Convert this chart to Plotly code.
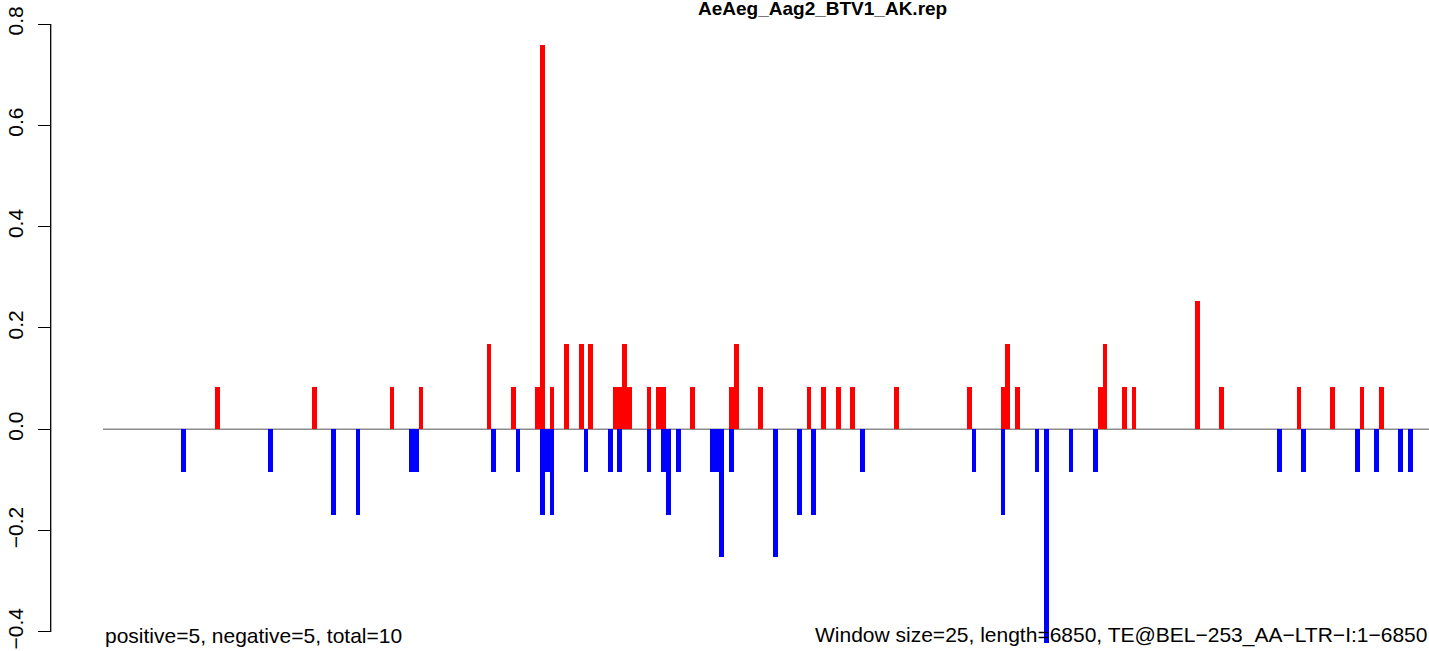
import plotly.graph_objects as go

# window index (25 bp windows) and normalized values
pos_bins = [23, 43, 59, 65, 79, 84, 89, 90, 92, 95, 98, 100, 105, 106, 107, 108,
            112, 114, 115, 121, 129, 130, 135, 145, 148, 151, 154, 163, 178, 185,
            186, 188, 205, 206, 210, 212, 225, 230, 246, 253, 259, 263]
pos_vals = [0.084, 0.084, 0.084, 0.084, 0.169, 0.084, 0.084, 0.759, 0.084, 0.169,
            0.169, 0.169, 0.084, 0.084, 0.169, 0.084, 0.084, 0.084, 0.084, 0.084,
            0.084, 0.169, 0.084, 0.084, 0.084, 0.084, 0.084, 0.084, 0.084, 0.084,
            0.169, 0.084, 0.084, 0.169, 0.084, 0.084, 0.253, 0.084, 0.084, 0.084,
            0.084, 0.084]

neg_bins = [16, 34, 47, 52, 63, 64, 80, 85, 90, 91, 92, 99, 104, 106, 112, 115,
            116, 118, 125, 126, 127, 129, 138, 143, 146, 156, 179, 185, 192, 194,
            199, 204, 242, 247, 258, 262, 267, 269]
neg_vals = [-0.084, -0.084, -0.169, -0.169, -0.084, -0.084, -0.084, -0.084, -0.169,
            -0.084, -0.169, -0.084, -0.084, -0.084, -0.084, -0.084, -0.169, -0.084,
            -0.084, -0.084, -0.253, -0.084, -0.253, -0.169, -0.169, -0.084, -0.084,
            -0.169, -0.084, -0.421, -0.084, -0.084, -0.084, -0.084, -0.084, -0.084,
            -0.084, -0.084]

win = 25
y_ticks = [-0.4, -0.2, 0.0, 0.2, 0.4, 0.6, 0.8]
y_labels = ["\u22120.4", "\u22120.2", "0.0", "0.2", "0.4", "0.6", "0.8"]

title = "AeAeg_Aag2_BTV1_AK.rep"
left_note = "positive=5, negative=5, total=10"
right_note = "Window size=25, length=6850, TE@BEL\u2212253_AA\u2212LTR\u2212I:1\u22126850"

W, H = 1429, 651
font = "Liberation Sans, Arial, Helvetica, sans-serif"
x0 = 103 / W
yaxis_pos = 50.7 / W

fig = go.Figure()
fig.add_trace(go.Bar(x=[b * win + win / 2 for b in pos_bins], y=pos_vals, width=win,
                     marker=dict(color="#FF0000", line_width=0), showlegend=False))
fig.add_trace(go.Bar(x=[b * win + win / 2 for b in neg_bins], y=neg_vals, width=win,
                     marker=dict(color="#0000FF", line_width=0), showlegend=False))

# zero line across the plot region
fig.add_shape(type="line", xref="paper", yref="y", x0=x0, x1=1, y0=0, y1=0,
              line=dict(color="#8c8c8c", width=1.5), layer="below")
# y axis line, only over the tick range (R style)
fig.add_shape(type="line", xref="paper", yref="y", x0=yaxis_pos, x1=yaxis_pos,
              y0=-0.4, y1=0.8, line=dict(color="black", width=1.3))

fig.add_annotation(text="<b>" + title + "</b>", xref="paper", yref="paper",
                   x=822 / W, y=1 - 8 / H, xanchor="center", yanchor="middle",
                   showarrow=False, font=dict(size=19, color="black", family=font))
fig.add_annotation(text=left_note, xref="paper", yref="paper", x=x0, y=1 - 635 / H,
                   xanchor="left", yanchor="middle", showarrow=False,
                   font=dict(size=21, color="black", family=font))
fig.add_annotation(text=right_note, xref="paper", yref="paper", x=1, y=1 - 635 / H,
                   xanchor="right", yanchor="middle", showarrow=False,
                   font=dict(size=21, color="black", family=font))

fig.update_layout(
    width=W, height=H,
    margin=dict(l=0, r=0, t=0, b=0),
    paper_bgcolor="white", plot_bgcolor="white",
    barmode="overlay", bargap=0,
    xaxis=dict(domain=[x0, 1], range=[-2, 6833], visible=False),
    yaxis=dict(range=[-0.4376, 0.8474], anchor="free", position=yaxis_pos,
               showgrid=False, zeroline=False, showline=False,
               tickmode="array", tickvals=y_ticks, ticktext=y_labels,
               ticks="outside", ticklen=13, tickwidth=1.3, tickcolor="black",
               tickangle=-90, ticklabelstandoff=6,
               tickfont=dict(size=21, color="black", family=font)),
)

# drop the default page margin so the chart sits at the top-left corner
fig.write_html("out.html", config={"displayModeBar": False},
               post_script="document.body.style.margin='0';")
